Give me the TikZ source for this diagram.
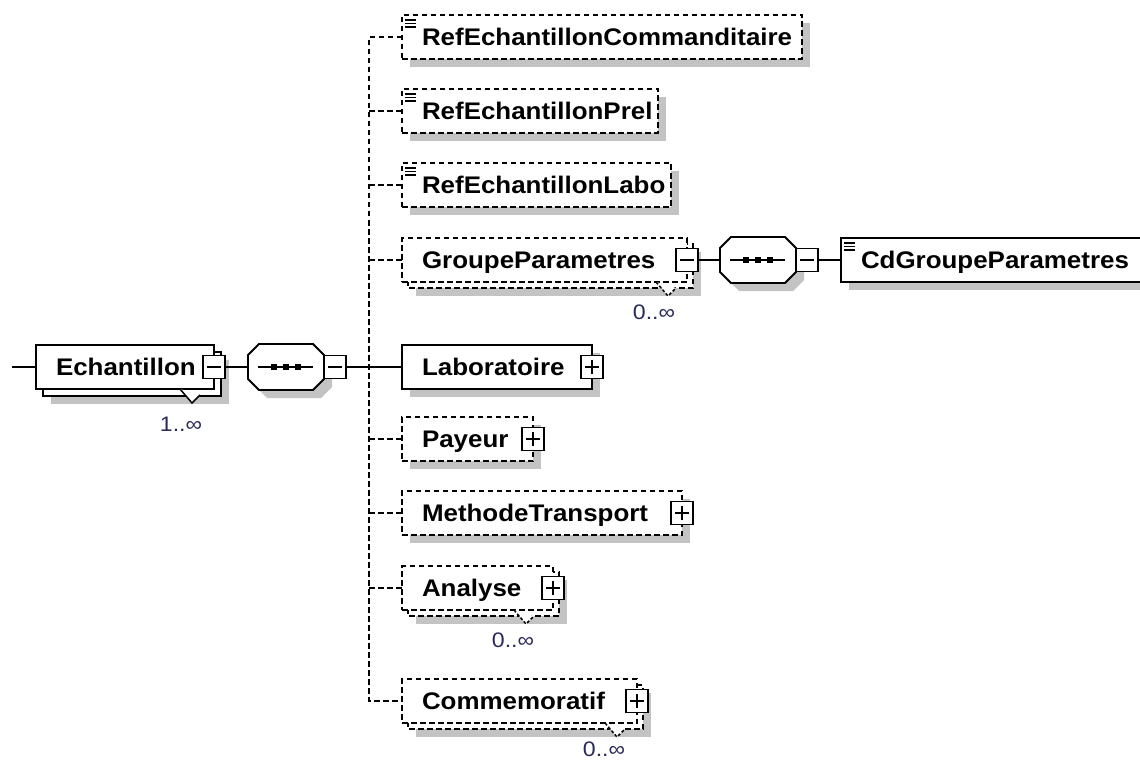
\documentclass[tikz,border=0pt]{standalone}
\usepackage{fontspec}
\newfontfamily\ef{Liberation Sans}[FakeStretch=1.08]
\newfontfamily\mf{Liberation Sans}[FakeStretch=1.1]
\usetikzlibrary{fit,calc}
\definecolor{shadowc}{HTML}{C3C3C3}
\definecolor{multc}{HTML}{2A2A5A}

\newcommand\element[7]{% name, style, x1, y1, x2, y2, text
  \node[#2, fit={(#3,#4) (#5,#6)}] (#1) {};
  \node[lbl] (#1t) at ([xshift=20pt,yshift=-8.6pt]#1.west) {#7};}
\newcommand\pmbox[2]{% name, 1=plus 0=minus
  \node[pm] (#1pm) at (#1.east) {};
  \draw[lw] ([xshift=-7pt]#1pm.center) -- ([xshift=7pt]#1pm.center);
  \ifnum#2=1 \draw[lw] ([yshift=-7pt]#1pm.center) -- ([yshift=7pt]#1pm.center);\fi}
\newcommand\simpleicon[1]{%
  \foreach \dy in {5,8.5,12}{\draw[line width=1.4pt] ([xshift=3pt,yshift=-\dy pt]#1.north west) -- ++(11,0);}}
\newcommand\octpath[2]{(#1-27,#2-23) -- (#1+27,#2-23) -- (#1+38,#2-12) -- (#1+38,#2+12) -- (#1+27,#2+23) -- (#1-27,#2+23) -- (#1-38,#2+12) -- (#1-38,#2-12) -- cycle}
\newcommand\seqc[3]{% name, cx, cy
  \fill[shadowc, shift={(8,8)}] \octpath{#2}{#3};
  \filldraw[fill=white, lw] \octpath{#2}{#3};
  \node[minimum width=76pt, minimum height=46pt] (#1) at (#2,#3) {};
  \draw[lw] (#2-28,#3) -- (#2+27,#3);
  \foreach \dx in {-12,0,12}{\fill (#2+\dx-3.2,#3-3.2) rectangle (#2+\dx+3.2,#3+3.2);}
  \node[pm] (#1pm) at (#2+49,#3) {};
  \draw[lw] ([xshift=-7pt]#1pm.center) -- ([xshift=7pt]#1pm.center);}

\begin{document}
\begin{tikzpicture}[x=1pt,y=-1pt,
  every node/.style={inner sep=0pt, outer sep=0pt},
  lw/.style={line width=1.9pt},
  dsh/.style={dash pattern=on 5.5pt off 3.5pt},
  box/.style={draw=black, lw, fill=white},
  dbox/.style={box, dsh},
  lbl/.style={font=\ef\bfseries\fontsize{24}{28}\selectfont, anchor=base west},
  mult/.style={font=\mf\fontsize{21}{24}\selectfont, text=multc},
  pm/.style={draw=black, lw, fill=white, solid, minimum width=22pt, minimum height=23pt},
  vnotch/.style={fill=white, line width=1.5pt},
  dvnotch/.style={vnotch, dash pattern=on 3pt off 2pt},
  conn/.style={lw},
  dconn/.style={lw, dsh},
]
\useasboundingbox (0,0) rectangle (1140,762);
\clip (0,0) rectangle (1140,762);
\fill[white] (0,0) rectangle (1140,762);

% ---------- shadows ----------
\fill[shadowc] (51,360) rectangle (229,404);          % Echantillon
\fill[shadowc] (410,23) rectangle (810,67);           % ref1
\fill[shadowc] (410,97) rectangle (666,141);          % ref2
\fill[shadowc] (410,171) rectangle (679,215);         % ref3
\fill[shadowc] (416,252) rectangle (701,296);         % GroupeParametres
\fill[shadowc] (849,246) rectangle (1160,290);        % CdGroupeParametres
\fill[shadowc] (410,353) rectangle (600,397);         % Laboratoire
\fill[shadowc] (410,425) rectangle (541,469);         % Payeur
\fill[shadowc] (410,499) rectangle (690,543);         % MethodeTransport
\fill[shadowc] (416,580) rectangle (567,624);         % Analyse
\fill[shadowc] (416,693) rectangle (651,737);         % Commemoratif

% ---------- Echantillon ----------
\draw[box] (43,352) rectangle (221,396);
\element{ech}{box}{36}{345}{214}{389}{Echantillon}
\pmbox{ech}{0}
\filldraw[vnotch] (180,389) -- (192,403) -- (200,395);
\node[mult] (echm) at (181,424) {1..∞};
\coordinate (in) at (12,367);

% ---------- sequence 1 ----------
\seqc{seqa}{286}{367}

% ---------- children ----------
\element{ref1}{dbox}{402}{15}{802}{59}{RefEchantillonCommanditaire}
\simpleicon{ref1}
\element{ref2}{dbox}{402}{89}{658}{133}{RefEchantillonPrel}
\simpleicon{ref2}
\element{ref3}{dbox}{402}{163}{671}{207}{RefEchantillonLabo}
\simpleicon{ref3}

\draw[dbox] (408,244) rectangle (693,288);
\element{grp}{dbox}{402}{238}{687}{282}{GroupeParametres}
\pmbox{grp}{0}
\filldraw[dvnotch] (656,282) -- (668,296) -- (676,288);
\node[mult] (grpm) at (654,312) {0..∞};

\seqc{seqb}{758}{260}
\element{cd}{box}{841}{238}{1152}{282}{CdGroupeParametres}
\simpleicon{cd}

\element{lab}{box}{402}{345}{592}{389}{Laboratoire}
\pmbox{lab}{1}
\element{pay}{dbox}{402}{417}{533}{461}{Payeur}
\pmbox{pay}{1}
\element{meth}{dbox}{402}{491}{682}{535}{MethodeTransport}
\pmbox{meth}{1}

\draw[dbox] (408,572) rectangle (559,616);
\element{ana}{dbox}{402}{566}{553}{610}{Analyse}
\pmbox{ana}{1}
\filldraw[dvnotch] (514,610) -- (526,624) -- (534,616);
\node[mult] (anam) at (513,640) {0..∞};

\draw[dbox] (408,685) rectangle (643,729);
\element{comm}{dbox}{402}{679}{637}{723}{Commemoratif}
\pmbox{comm}{1}
\filldraw[dvnotch] (605,723) -- (617,737) -- (625,729);
\node[mult] (commm) at (604,749) {0..∞};

% ---------- connectors ----------
\coordinate (bus) at (369,367);
\draw[conn] (in) -- (ech.west);
\draw[conn] (echpm.east) -- (seqa.west);
\draw[conn] (seqapm.east) -- (lab.west);
\draw[dconn] (ref1.west) -| (bus) |- (comm.west);
\foreach \n in {ref2,ref3,grp,pay,meth,ana}{\draw[dconn] (bus |- \n.west) -- (\n.west);}
\draw[conn] (grppm.east) -- (seqb.west);
\draw[conn] (seqbpm.east) -- (cd.west);
\end{tikzpicture}
\end{document}
